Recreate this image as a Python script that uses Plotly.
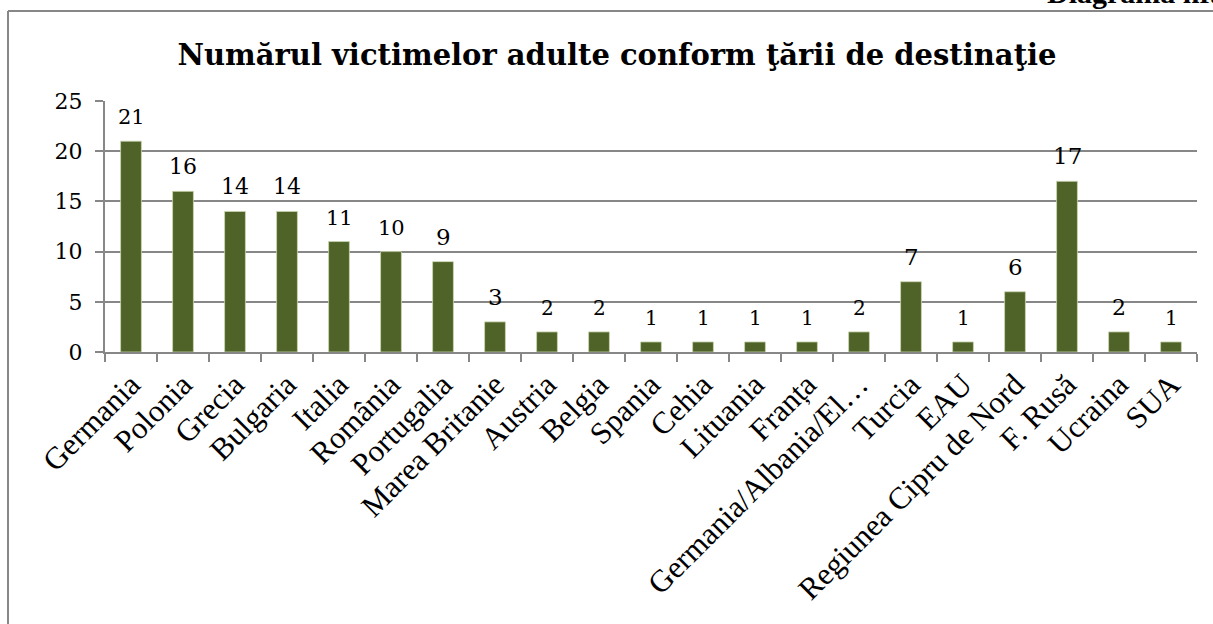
import plotly.graph_objects as go

categories = ["Germania", "Polonia", "Grecia", "Bulgaria", "Italia", "România",
              "Portugalia", "Marea Britanie", "Austria", "Belgia", "Spania", "Cehia",
              "Lituania", "Franța", "Germania/Albania/El…", "Turcia", "EAU",
              "Regiunea Cipru de Nord", "F. Rusă", "Ucraina", "SUA"]
values = [21, 16, 14, 14, 11, 10, 9, 3, 2, 2, 1, 1, 1, 1, 2, 7, 1, 6, 17, 2, 1]
label_sizes = [21, 22, 22, 22, 21, 21, 23, 23, 20, 20, 20, 20, 20, 20, 20, 23, 20, 23, 23, 22, 20]

title_text = "Numărul victimelor adulte conform ţării de destinaţie"
corner_text = "Diagrama nr. 9"

NUM_FONT = "Georgia, DejaVu Serif, serif"
CAT_FONT = "Times New Roman, Liberation Serif, serif"
GRID = "#878787"

fig = go.Figure()
fig.add_trace(go.Bar(
    x=categories, y=values,
    marker=dict(color="#4F6228", line=dict(color="#c9d6b0", width=0.8)),
    hoverinfo="x+y",
))

for c, v, s in zip(categories, values, label_sizes):
    fig.add_annotation(x=c, y=v, text=str(v), showarrow=False, xref="x", yref="y",
                       yanchor="bottom", yshift=10,
                       font=dict(family=NUM_FONT, size=s, color="black"))

W, H = 1213, 624
L, R, T, B = 105, 16, 101, 272
pw, ph = W - L - R, H - T - B

def px(xp):
    return (xp - L) / pw

def py(yp):
    return (H - B - yp) / ph

# outer chart border
fig.add_shape(type="line", xref="paper", yref="paper", x0=px(8), x1=px(1240), y0=py(11), y1=py(11),
              line=dict(color=GRID, width=2))
fig.add_shape(type="line", xref="paper", yref="paper", x0=px(8), x1=px(8), y0=py(11), y1=py(660),
              line=dict(color=GRID, width=2))

fig.add_annotation(xref="paper", yref="paper", x=px(1045), y=py(11), xanchor="left", yanchor="bottom",
                   text="<b>" + corner_text + "</b>", showarrow=False,
                   font=dict(family=CAT_FONT, size=30, color="black"))

fig.update_layout(
    width=W, height=H,
    margin=dict(l=L, r=R, t=T, b=B),
    paper_bgcolor="white", plot_bgcolor="white",
    showlegend=False,
    bargap=0.6,
    title=dict(text="<b>" + title_text + "</b>", x=617 / W, xanchor="center",
               y=1 - 55 / H, yanchor="middle",
               font=dict(family=NUM_FONT, size=29, color="black")),
    xaxis=dict(type="category", tickangle=-45, tickson="boundaries", automargin=False,
               ticks="outside", ticklen=8, tickcolor=GRID, tickwidth=1.5,
               showline=True, linecolor=GRID, linewidth=2,
               tickfont=dict(family=CAT_FONT, size=31, color="black"),
               showgrid=False),
    yaxis=dict(range=[0, 25], tickvals=[0, 5, 10, 15, 20, 25], automargin=False,
               ticks="outside", ticklen=8, tickcolor=GRID, tickwidth=1.5,
               ticklabelstandoff=8,
               showline=True, linecolor=GRID, linewidth=2,
               showgrid=True, gridcolor=GRID, gridwidth=1.5,
               zeroline=False,
               tickfont=dict(family=NUM_FONT, size=22, color="black")),
)

fig.write_html("out.html", config={"displayModeBar": False},
               post_script="document.body.style.margin='0px';document.body.style.overflow='hidden';")
